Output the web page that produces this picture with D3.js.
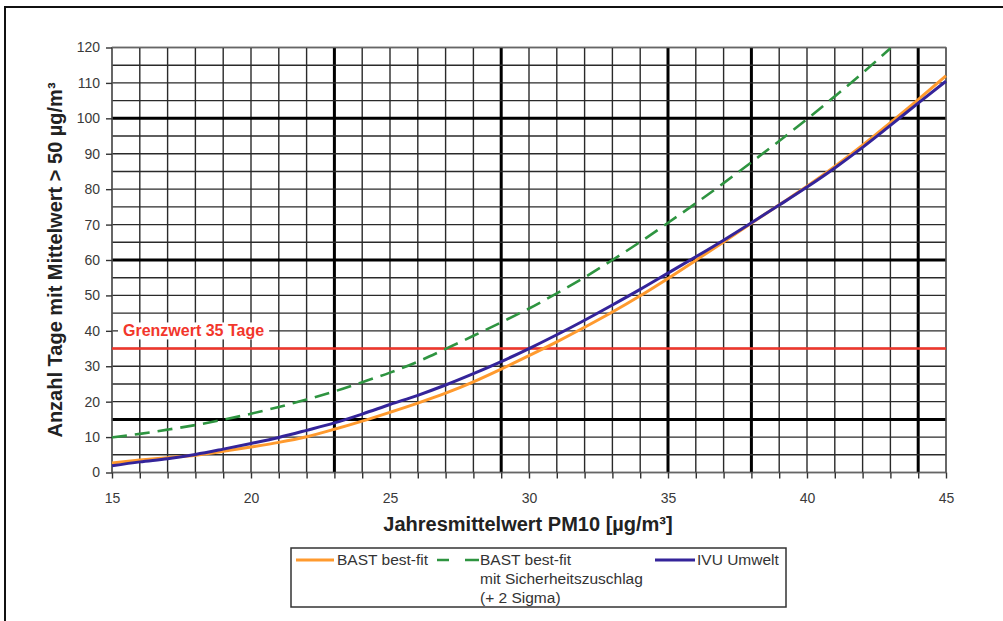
<!DOCTYPE html>
<html>
<head>
<meta charset="utf-8">
<script src="https://cdn.jsdelivr.net/npm/d3@7"></script>
<style>
  html, body { margin: 0; padding: 0; background: #fff; }
  svg { display: block; font-family: "Liberation Sans", Arial, sans-serif; }
</style>
</head>
<body>
<svg id="chart" width="1003" height="621"></svg>
<script>
// ---- data ----
const xValues = [15,16,17,18,19,20,21,22,23,24,25,26,27,28,29,30,31,32,33,34,35,36,37,38,39,40,41,42,43,44,45];
const bastFit = [2.7,3.5,4.2,4.9,6.0,7.2,8.5,10.1,12.2,14.5,17.0,19.6,22.4,25.6,29.2,33.0,36.9,41.0,45.3,49.9,54.8,59.9,65.1,70.4,75.6,80.8,86.4,92.4,98.8,105.3,112.0];
const sigmaX = [15,16,17,18,19,20,21,22,23,24,25,26,27,28,29,30,31,32,33,34,35,36,37,38,39,40,41,42,43];
const bastSigma = [9.9,10.9,12.1,13.4,14.9,16.6,18.5,20.6,22.9,25.5,28.2,31.3,34.9,38.6,42.4,46.3,50.6,55.1,60.0,65.1,70.5,76.0,81.7,87.6,93.6,99.8,106.2,112.8,119.8];
const ivu = [1.9,3.0,3.9,5.1,6.6,8.2,9.9,11.9,14.0,16.5,19.2,21.8,24.7,27.9,31.3,35.0,38.9,43.0,47.3,51.7,56.3,60.9,65.6,70.5,75.5,80.6,86.0,91.8,98.0,104.3,110.5];
const xTickLabels = [15,20,25,30,35,40,45];
const yTickLabels = [0,10,20,30,40,50,60,70,80,90,100,110,120];
const xThick = [23,29,35,38,44];
const yThick = [15,60,100];
const limitValue = 35;
const limitLabel = "Grenzwert 35 Tage";
const seriesNames = ["BAST best-fit", ["BAST best-fit","mit Sicherheitszuschlag","(+ 2 Sigma)"], "IVU Umwelt"];
const xTitle = "Jahresmittelwert PM10 [µg/m³]";
const yTitle = "Anzahl Tage mit Mittelwert > 50 µg/m³";

// ---- layout ----
const svg = d3.select("#chart");
const L = 112, R = 946, T = 47.5, B = 472.5;
const x = d3.scaleLinear().domain([15,45]).range([L,R]);
const y = d3.scaleLinear().domain([0,120]).range([B,T]);

const colOrange = "#FF9A2E", colGreen = "#2E9440", colBlue = "#34249A", colRed = "#F2362B";

// outer frame
svg.append("rect").attr("x",5).attr("y",7).attr("width",1020).attr("height",640)
  .attr("fill","none").attr("stroke","#111").attr("stroke-width",2);

const g = svg.append("g");

// grid lines
const xGrid = d3.range(15,46,1);
const yGrid = d3.range(0,121,5);
g.selectAll(".vg").data(xGrid).join("line")
  .attr("x1",d=>x(d)).attr("x2",d=>x(d)).attr("y1",y(0)).attr("y2",y(120))
  .attr("stroke", d=> xThick.includes(d) ? "#000" : "#2a2a2a")
  .attr("stroke-width", d=> xThick.includes(d) ? 3 : 1.4);
g.selectAll(".hg").data(yGrid).join("line")
  .attr("x1",x(15)).attr("x2",x(45)).attr("y1",d=>y(d)).attr("y2",d=>y(d))
  .attr("stroke", d=> yThick.includes(d) ? "#000" : "#2a2a2a")
  .attr("stroke-width", d=> yThick.includes(d) ? 3 : 1.4);

// plot border
g.append("rect").attr("x",L).attr("y",T).attr("width",R-L).attr("height",B-T)
  .attr("fill","none").attr("stroke","#666").attr("stroke-width",1.2);

// axes
const xAxis = d3.axisBottom(x).tickValues(xGrid).tickSize(6)
  .tickFormat(d => xTickLabels.includes(d) ? d : "");
const gx = svg.append("g").attr("transform",`translate(0,${B})`).call(xAxis);
gx.select(".domain").remove();
gx.selectAll(".tick line").attr("stroke","#333").attr("stroke-width",1.4);
gx.selectAll(".tick text").attr("dy","1.55em").attr("font-size",14).attr("fill","#3a3a3a")
  .attr("font-family","Liberation Sans, Arial, sans-serif");

const yAxis = d3.axisLeft(y).tickValues(yTickLabels).tickSize(6).tickPadding(6);
const gy = svg.append("g").attr("transform",`translate(${L},0)`).call(yAxis);
gy.select(".domain").remove();
gy.selectAll(".tick line").attr("stroke","#333").attr("stroke-width",1.4);
gy.selectAll(".tick text").attr("font-size",14).attr("fill","#3a3a3a")
  .attr("font-family","Liberation Sans, Arial, sans-serif");

// limit label with white background
const lblG = svg.append("g");
const lblBg = lblG.append("rect").attr("fill","#fff");
const lbl = lblG.append("text").attr("x",123).attr("y",y(40)).attr("dy","0.35em")
  .attr("font-size",16).attr("font-weight","bold").attr("fill",colRed).text(limitLabel);
const bb = lbl.node().getBBox();
lblBg.attr("x",bb.x-5).attr("y",bb.y).attr("width",bb.width+10).attr("height",bb.height);

// limit line
svg.append("line").attr("x1",x(15)).attr("x2",x(45)).attr("y1",y(limitValue)).attr("y2",y(limitValue))
  .attr("stroke",colRed).attr("stroke-width",2.6);

// series
const line = d3.line().curve(d3.curveMonotoneX).x(d=>x(d[0])).y(d=>y(d[1]));
svg.append("path").datum(xValues.map((v,i)=>[v,bastFit[i]]))
  .attr("d",line).attr("fill","none").attr("stroke",colOrange).attr("stroke-width",3);
svg.append("path").datum(xValues.map((v,i)=>[v,ivu[i]]))
  .attr("d",line).attr("fill","none").attr("stroke",colBlue).attr("stroke-width",3);
svg.append("path").datum(sigmaX.map((v,i)=>[v,bastSigma[i]]))
  .attr("d",line).attr("fill","none").attr("stroke",colGreen).attr("stroke-width",2.6)
  .attr("stroke-dasharray","15,8");

// axis titles
svg.append("text").attr("x",528).attr("y",531).attr("text-anchor","middle")
  .attr("font-size",20).attr("font-weight","bold").attr("fill","#222").text(xTitle);
svg.append("text").attr("transform",`translate(62,260) rotate(-90)`).attr("text-anchor","middle")
  .attr("font-size",20).attr("font-weight","bold").attr("fill","#222").text(yTitle);

// legend
const lg = svg.append("g");
const fs = 15.5;
lg.append("rect").attr("x",291).attr("y",548).attr("width",495).attr("height",59)
  .attr("fill","#fff").attr("stroke","#333").attr("stroke-width",1.5);
const ly = 560;
lg.append("line").attr("x1",296).attr("x2",334).attr("y1",ly).attr("y2",ly)
  .attr("stroke",colOrange).attr("stroke-width",3);
lg.append("text").attr("x",337).attr("y",ly).attr("dy","0.35em").attr("font-size",fs).attr("fill","#333").text(seriesNames[0]);
lg.append("line").attr("x1",437).attr("x2",479).attr("y1",ly).attr("y2",ly)
  .attr("stroke",colGreen).attr("stroke-width",2.6).attr("stroke-dasharray","12,16,14");
const t2 = lg.append("text").attr("x",480).attr("y",ly).attr("font-size",fs).attr("fill","#333");
seriesNames[1].forEach((s,i)=> t2.append("tspan").attr("x",480).attr("dy", i===0 ? "0.35em" : "1.2em").text(s));
lg.append("line").attr("x1",655).attr("x2",695).attr("y1",ly).attr("y2",ly)
  .attr("stroke",colBlue).attr("stroke-width",3);
lg.append("text").attr("x",697).attr("y",ly).attr("dy","0.35em").attr("font-size",fs).attr("fill","#333").text(seriesNames[2]);
</script>
</body>
</html>
